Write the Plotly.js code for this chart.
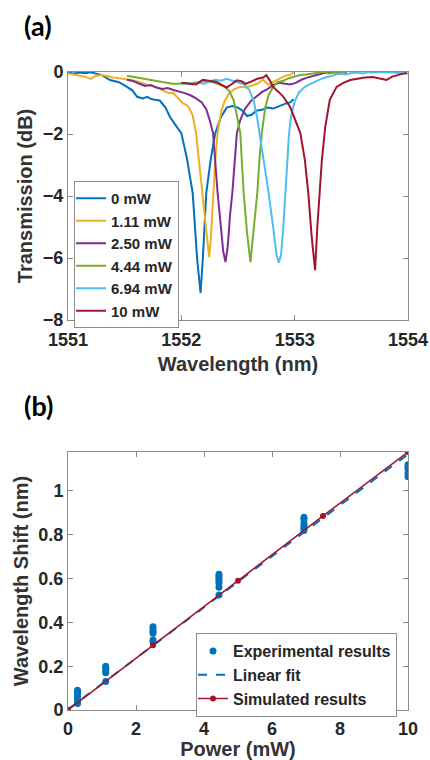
<!DOCTYPE html>
<html>
<head>
<meta charset="utf-8">
<script src="https://cdn.plot.ly/plotly-3.0.1.min.js"></script>
<style>html,body{margin:0;padding:0;background:#fff;}#chart{width:430px;height:760px;}</style>
</head>
<body>
<div id="chart"></div>
<script>
// ---------- Panel (a): transmission spectra ----------
const seriesNames = ["0 mW", "1.11 mW", "2.50 mW", "4.44 mW", "6.94 mW", "10 mW"];
const seriesColors = ["#0072BD", "#EDB120", "#7E2F8E", "#77AC30", "#4DBEEE", "#A2142F"];

const wl0 = [1551.00,1551.05,1551.10,1551.15,1551.20,1551.25,1551.30,1551.37,1551.45,1551.52,1551.57,1551.61,1551.66,1551.70,1551.74,1551.78,1551.81,1551.86,1551.90,1551.96,1552.00,1552.05,1552.10,1552.14,1552.17,1552.19,1552.22,1552.26,1552.30,1552.35,1552.40,1552.45,1552.50,1552.54,1552.58,1552.62,1552.66,1552.71,1552.76,1552.81,1552.86,1552.92,1552.96,1552.99];
const tr0 = [-0.02,-0.05,-0.02,-0.04,-0.01,-0.05,-0.10,-0.26,-0.33,-0.48,-0.60,-0.80,-0.85,-0.80,-0.88,-0.90,-0.92,-1.15,-1.45,-1.77,-1.97,-2.80,-3.90,-6.06,-7.13,-6.00,-3.90,-2.80,-1.97,-1.45,-1.15,-1.10,-1.15,-1.25,-1.42,-1.38,-1.25,-1.22,-1.15,-1.18,-1.10,-1.02,-0.98,-0.88];

const wl1 = [1551.00,1551.05,1551.10,1551.15,1551.20,1551.25,1551.30,1551.35,1551.40,1551.45,1551.50,1551.55,1551.60,1551.65,1551.70,1551.75,1551.80,1551.85,1551.89,1551.93,1551.97,1552.01,1552.06,1552.10,1552.13,1552.16,1552.19,1552.22,1552.245,1552.26,1552.28,1552.30,1552.32,1552.35,1552.38,1552.42,1552.47,1552.52,1552.57,1552.62,1552.67,1552.72,1552.77,1552.82,1552.87,1552.92,1552.96,1553.00];
const tr1 = [-0.05,-0.08,-0.10,-0.15,-0.22,-0.12,-0.10,-0.15,-0.18,-0.20,-0.22,-0.25,-0.30,-0.35,-0.40,-0.45,-0.52,-0.62,-0.68,-0.68,-0.85,-1.00,-1.10,-1.40,-1.97,-3.00,-3.90,-5.10,-5.97,-5.40,-3.90,-2.80,-1.97,-1.30,-0.95,-0.70,-0.55,-0.48,-0.50,-0.45,-0.38,-0.25,-0.42,-0.30,-0.20,-0.12,-0.10,0.02];

const wl2 = [1551.52,1551.58,1551.63,1551.68,1551.73,1551.78,1551.83,1551.88,1551.93,1551.98,1552.03,1552.08,1552.13,1552.18,1552.22,1552.25,1552.28,1552.32,1552.35,1552.37,1552.39,1552.41,1552.43,1552.45,1552.49,1552.52,1552.56,1552.61,1552.66,1552.71,1552.76,1552.81,1552.86,1552.91,1552.96,1553.01,1553.06,1553.11,1553.16,1553.21,1553.26,1553.31,1553.36,1553.41,1553.46];
const tr2 = [-0.25,-0.30,-0.38,-0.45,-0.42,-0.50,-0.55,-0.52,-0.58,-0.62,-0.68,-0.75,-0.85,-0.98,-1.20,-1.55,-1.97,-3.90,-5.10,-5.80,-6.13,-5.60,-4.60,-3.90,-1.97,-1.55,-1.20,-0.95,-0.80,-0.65,-0.55,-0.42,-0.35,-0.38,-0.40,-0.35,-0.25,-0.18,-0.12,-0.08,-0.03,-0.02,0.00,-0.05,-0.02];

const wl3 = [1551.52,1551.57,1551.62,1551.67,1551.72,1551.77,1551.82,1551.87,1551.92,1551.97,1552.02,1552.07,1552.12,1552.17,1552.22,1552.27,1552.32,1552.37,1552.42,1552.46,1552.49,1552.52,1552.55,1552.58,1552.61,1552.64,1552.67,1552.69,1552.71,1552.74,1552.77,1552.81,1552.85,1552.90,1552.95,1553.00,1553.05,1553.10,1553.15,1553.20,1553.25,1553.30,1553.35,1553.40,1553.45];
const tr3 = [-0.12,-0.15,-0.20,-0.22,-0.25,-0.28,-0.32,-0.35,-0.38,-0.38,-0.36,-0.38,-0.34,-0.30,-0.28,-0.32,-0.38,-0.45,-0.60,-0.90,-1.40,-1.97,-3.90,-5.20,-6.13,-4.90,-3.90,-2.80,-1.97,-1.15,-0.75,-0.48,-0.33,-0.28,-0.20,-0.15,-0.10,-0.08,-0.05,-0.02,0.00,-0.05,-0.02,-0.05,-0.02];

const wl4 = [1552.00,1552.05,1552.10,1552.15,1552.20,1552.25,1552.30,1552.35,1552.40,1552.45,1552.50,1552.55,1552.60,1552.64,1552.67,1552.69,1552.73,1552.77,1552.81,1552.84,1552.86,1552.88,1552.90,1552.92,1552.95,1552.97,1553.00,1553.04,1553.09,1553.14,1553.20,1553.25,1553.30,1553.35,1553.40,1553.45,1553.50,1553.55,1553.60,1553.65,1553.70,1553.80,1553.90,1554.00];
const tr4 = [-0.38,-0.35,-0.40,-0.35,-0.38,-0.30,-0.25,-0.28,-0.22,-0.28,-0.35,-0.40,-0.58,-0.95,-1.50,-1.97,-3.00,-3.90,-5.00,-5.90,-6.15,-5.90,-5.00,-3.90,-2.00,-1.40,-0.95,-0.65,-0.48,-0.38,-0.28,-0.20,-0.15,-0.10,-0.05,-0.08,-0.03,-0.02,-0.05,0.00,-0.02,0.00,-0.02,-0.05];

const wl5 = [1552.00,1552.06,1552.13,1552.19,1552.25,1552.31,1552.36,1552.40,1552.45,1552.49,1552.53,1552.57,1552.62,1552.67,1552.72,1552.75,1552.78,1552.81,1552.86,1552.90,1552.96,1553.01,1553.05,1553.09,1553.12,1553.15,1553.18,1553.20,1553.22,1553.24,1553.27,1553.31,1553.37,1553.43,1553.49,1553.55,1553.62,1553.69,1553.75,1553.81,1553.86,1553.90,1553.95,1553.99];
const tr5 = [-0.35,-0.38,-0.40,-0.25,-0.28,-0.32,-0.42,-0.50,-0.38,-0.27,-0.30,-0.38,-0.30,-0.22,-0.18,-0.10,-0.27,-0.48,-0.65,-0.80,-1.13,-1.60,-1.97,-2.84,-3.90,-5.30,-6.39,-5.00,-3.90,-2.84,-1.77,-0.90,-0.48,-0.35,-0.26,-0.22,-0.18,-0.16,-0.20,-0.26,-0.15,-0.10,-0.06,-0.03];

const wlSets = [wl0, wl1, wl2, wl3, wl4, wl5];
const trSets = [tr0, tr1, tr2, tr3, tr4, tr5];

// ---------- Panel (b): wavelength shift vs power ----------
const expPower = [0.28,0.28,0.28,0.28,0.28,0.28,0.28, 1.11,1.11,1.11,1.11,1.11, 2.5,2.5,2.5,2.5,2.5,2.5, 4.44,4.44,4.44,4.44,4.44,4.44,4.44, 6.94,6.94,6.94,6.94,6.94,6.94, 10,10,10,10,10];
const expShift = [0.03,0.04,0.05,0.06,0.07,0.08,0.09, 0.13,0.17,0.18,0.19,0.20, 0.31,0.32,0.35,0.36,0.37,0.38, 0.525,0.56,0.58,0.59,0.60,0.61,0.62, 0.82,0.83,0.84,0.85,0.87,0.88, 1.065,1.08,1.10,1.11,1.12];
const fitPower = [0, 10];
const fitShift = [0.003, 1.168];
const simPower = [0, 2.5, 5, 7.5, 10];
const simShift = [0, 0.296, 0.59, 0.886, 1.178];

const xTicksA = [1551, 1552, 1553, 1554];
const yTicksA = [0, -2, -4, -6, -8];
const xTicksB = [0, 2, 4, 6, 8, 10];
const yTicksB = [0, 0.2, 0.4, 0.6, 0.8, 1];
const yTickTextB = ["0", "0.2", "0.4", "0.6", "0.8", "1"];

const textColor = "#262626";
const axisColor = "#8c8c8c";
const FF = "'Liberation Sans', Arial, sans-serif";
const tickFont = {family: FF, size: 18, color: textColor, weight: "bold"};
const titleFont = {family: FF, size: 20, color: "#333333", weight: "bold"};

const traces = [];
for (let i = 0; i < seriesNames.length; i++) {
  traces.push({
    x: wlSets[i], y: trSets[i], type: "scatter", mode: "lines",
    name: seriesNames[i], line: {color: seriesColors[i], width: 2},
    xaxis: "x", yaxis: "y", legend: "legend"
  });
}
traces.push({
  x: expPower, y: expShift, type: "scatter", mode: "markers",
  name: "Experimental results", marker: {color: "#0072BD", size: 7},
  xaxis: "x2", yaxis: "y2", legend: "legend2"
});
traces.push({
  x: fitPower, y: fitShift, type: "scatter", mode: "lines",
  name: "Linear fit", line: {color: "#0072BD", width: 2, dash: "dash"},
  xaxis: "x2", yaxis: "y2", legend: "legend2"
});
traces.push({
  x: simPower, y: simShift, type: "scatter", mode: "lines+markers",
  name: "Simulated results", line: {color: "#A2142F", width: 1.5},
  marker: {color: "#A2142F", size: 6},
  xaxis: "x2", yaxis: "y2", legend: "legend2"
});

function ax(extra) {
  return Object.assign({
    showline: true, linecolor: axisColor, linewidth: 1, mirror: "ticks",
    ticks: "inside", ticklen: 5, tickcolor: axisColor, tickwidth: 1,
    showgrid: false, zeroline: false, tickfont: tickFont, fixedrange: true
  }, extra);
}

const H = 760;
const layout = {
  width: 430, height: 760,
  margin: {l: 68, r: 22, t: 0, b: 0},
  paper_bgcolor: "#ffffff", plot_bgcolor: "#ffffff",
  showlegend: true,
  xaxis: ax({domain: [0, 1], anchor: "y", range: [1551, 1554], tickvals: xTicksA,
    ticklabelstandoff: 3,
    title: {text: "Wavelength (nm)", font: titleFont, standoff: 8}}),
  yaxis: ax({domain: [(H - 320) / H, (H - 72) / H], anchor: "x", range: [-8, 0], tickvals: yTicksA,
    title: {text: "Transmission (dB)", font: titleFont, standoff: 4}}),
  xaxis2: ax({domain: [0, 1], anchor: "y2", range: [0, 10], tickvals: xTicksB,
    ticklabelstandoff: 2,
    title: {text: "Power (mW)", font: titleFont, standoff: 0}}),
  yaxis2: ax({domain: [(H - 710) / H, (H - 452) / H], anchor: "x2", range: [0, 1.178],
    tickvals: yTicksB, ticktext: yTickTextB,
    title: {text: "Wavelength Shift (nm)", font: titleFont, standoff: 4}}),
  legend: {
    x: (74 - 68) / 340, y: (H - 181) / H, xanchor: "left", yanchor: "top",
    bgcolor: "#ffffff", bordercolor: axisColor, borderwidth: 1,
    font: {family: FF, size: 15, color: textColor, weight: "bold"},
    tracegroupgap: 0, itemwidth: 30, indentation: -4
  },
  legend2: {
    x: (196 - 68) / 340, y: (H - 633) / H, xanchor: "left", yanchor: "top",
    bgcolor: "#ffffff", bordercolor: axisColor, borderwidth: 1,
    font: {family: FF, size: 16, color: textColor, weight: "bold"},
    tracegroupgap: 0, itemwidth: 30, indentation: -4
  },
  annotations: [
    {text: "(a)", xref: "paper", yref: "paper", x: (22 - 68) / 340, y: (H - 25) / H,
      xanchor: "left", yanchor: "middle", showarrow: false,
      font: {family: "Lato, 'Open Sans', sans-serif", size: 27, color: "#000000", weight: "bold"}},
    {text: "(b)", xref: "paper", yref: "paper", x: (22 - 68) / 340, y: (H - 405) / H,
      xanchor: "left", yanchor: "middle", showarrow: false,
      font: {family: "Lato, 'Open Sans', sans-serif", size: 27, color: "#000000", weight: "bold"}}
  ]
};

Plotly.newPlot("chart", traces, layout, {displayModeBar: false, staticPlot: true});
</script>
</body>
</html>
